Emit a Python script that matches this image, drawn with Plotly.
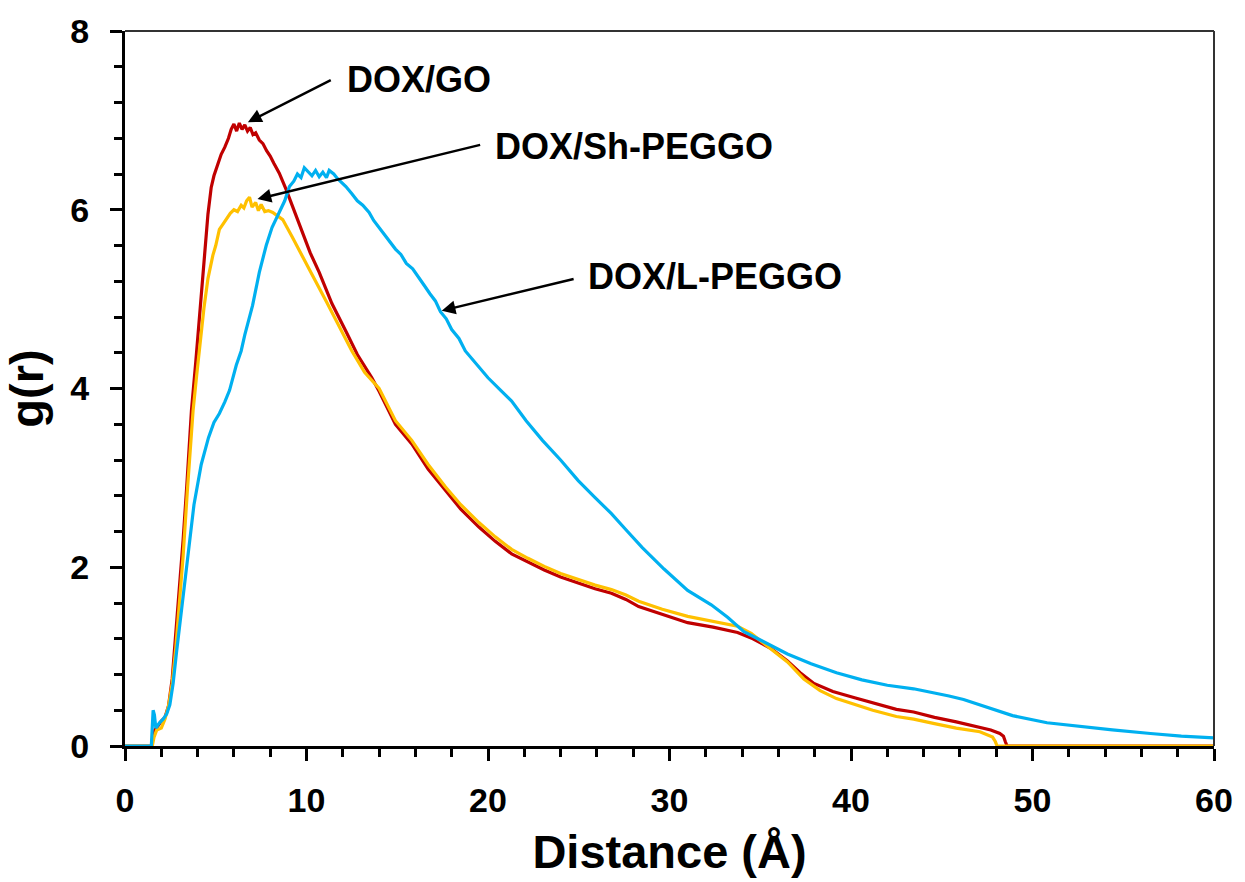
import plotly.graph_objects as go

# Radial distribution functions g(r) of DOX around three carriers
# DOX/GO
r_go = [0, 1.45, 1.55, 1.65, 1.8, 2.0, 2.2, 2.4, 2.6, 2.8, 3.0, 3.2, 3.4, 3.66, 3.9,
        4.12, 4.39, 4.57, 4.75, 4.9, 5.1, 5.3, 5.5, 5.7, 5.85, 6.0, 6.15, 6.3, 6.45,
        6.6, 6.75, 6.9, 7.05, 7.2, 7.4, 7.6, 7.8, 8.0, 8.2, 8.5, 8.87, 9.3, 9.79,
        10.2, 10.7, 11.4, 12.17, 12.8, 13.6, 14.0, 14.9, 15.8, 16.7, 17.65, 18.5,
        19.5, 20.4, 21.3, 22.2, 23.1, 24.0, 25.0, 25.9, 26.8, 27.6, 28.3, 29.6,
        31.0, 32.4, 33.75, 34.6, 35.6, 36.5, 37.2, 37.96, 39.0, 40.2, 41.4, 42.5,
        43.45, 44.6, 45.8, 47.1, 47.7, 48.2, 48.4, 48.5, 48.6, 60.0]
g_go = [0, 0, 0.12, 0.18, 0.22, 0.28, 0.32, 0.45, 0.75, 1.25, 1.8, 2.3, 2.9, 3.75, 4.3,
        4.86, 5.6, 5.95, 6.25, 6.38, 6.5, 6.62, 6.7, 6.8, 6.9, 6.96, 6.88, 6.97, 6.9,
        6.95, 6.88, 6.92, 6.84, 6.86, 6.78, 6.74, 6.66, 6.6, 6.52, 6.41, 6.23, 6.0, 5.75,
        5.52, 5.3, 4.95, 4.64, 4.38, 4.12, 3.97, 3.6, 3.38, 3.1, 2.86, 2.65,
        2.45, 2.29, 2.15, 2.06, 1.97, 1.89, 1.82, 1.76, 1.71, 1.64, 1.56, 1.47,
        1.38, 1.33, 1.27, 1.2, 1.09, 0.95, 0.82, 0.7, 0.61, 0.54, 0.47, 0.41,
        0.38, 0.32, 0.27, 0.21, 0.18, 0.14, 0.11, 0.05, 0.0, 0.0]

# DOX/Sh-PEGGO
r_sh = [0, 1.5, 1.6, 1.75, 2.0, 2.2, 2.4, 2.6, 2.8, 3.0, 3.2, 3.45, 3.75, 3.95,
        4.12, 4.35, 4.57, 4.84, 5.0, 5.2, 5.4, 5.6, 5.8, 6.0, 6.2, 6.4, 6.55,
        6.7, 6.86, 7.0, 7.2, 7.35, 7.5, 7.7, 7.9, 8.14, 8.4, 8.69, 9.2, 9.79,
        10.5, 11.1, 11.8, 12.5, 13.2, 14.0, 14.9, 15.8, 16.7, 17.65, 18.5, 19.5,
        20.4, 21.3, 22.2, 23.1, 24.0, 25.0, 25.9, 26.8, 27.6, 28.3, 29.6, 31.0,
        32.4, 33.75, 34.5, 35.4, 36.5, 37.4, 38.3, 39.2, 39.8, 41.2, 42.5, 43.45,
        44.6, 45.8, 47.1, 47.8, 47.95, 48.05, 60.0]
g_sh = [0, 0, 0.1, 0.18, 0.2, 0.3, 0.45, 0.7, 1.1, 1.6, 2.12, 2.9, 3.75, 4.15,
        4.49, 4.9, 5.23, 5.49, 5.6, 5.78, 5.84, 5.9, 5.96, 6.0, 5.98, 6.05, 6.02,
        6.1, 6.14, 6.03, 6.08, 5.99, 6.06, 5.98, 5.99, 5.97, 5.93, 5.89, 5.7, 5.48,
        5.2, 4.97, 4.7, 4.42, 4.18, 4.0, 3.64, 3.42, 3.15, 2.9, 2.7, 2.5,
        2.34, 2.2, 2.1, 2.01, 1.93, 1.86, 1.8, 1.75, 1.69, 1.62, 1.53, 1.45,
        1.39, 1.34, 1.26, 1.12, 0.94, 0.75, 0.62, 0.53, 0.49, 0.4, 0.33, 0.3,
        0.25, 0.2, 0.16, 0.1, 0.05, 0.0, 0.0]

# DOX/L-PEGGO
r_l = [0, 1.45, 1.55, 1.62, 1.7, 1.9, 2.1, 2.3, 2.47, 2.65, 2.84, 3.1, 3.46, 3.8,
       4.2, 4.6, 4.9, 5.2, 5.5, 5.76, 6.13, 6.4, 6.6, 6.8, 7.03, 7.4, 7.78, 8.1,
       8.5, 8.8, 9.06, 9.3, 9.5, 9.7, 9.88, 10.1, 10.3, 10.5, 10.7, 10.9, 11.1,
       11.25, 11.5, 11.7, 11.95, 12.17, 12.5, 12.8, 13.1, 13.45, 13.7, 14.0, 14.4,
       14.9, 15.2, 15.5, 15.85, 16.2, 16.5, 16.8, 17.1, 17.38, 17.7, 18.0, 18.4,
       18.75, 19.4, 20.0, 20.7, 21.3, 22.1,
       23.0, 24.0, 24.97, 25.9, 26.8, 27.6, 28.5, 29.7, 31.0, 32.3, 33.2, 34.1,
       35.3, 36.5, 37.8, 39.2, 40.6, 42.0, 43.45, 44.5, 45.4, 46.2, 47.1, 48.0,
       48.9, 50.8, 52.5, 54.4, 56.5, 58.2, 60.0]
g_l = [0, 0, 0.4, 0.35, 0.2, 0.26, 0.3, 0.36, 0.46, 0.7, 1.05, 1.5, 2.12, 2.7,
       3.15, 3.45, 3.62, 3.72, 3.85, 3.98, 4.26, 4.42, 4.6, 4.76, 4.93, 5.3, 5.6, 5.8,
       5.97, 6.1, 6.26, 6.32, 6.4, 6.36, 6.47, 6.42, 6.38, 6.44, 6.37, 6.42, 6.36,
       6.44, 6.4, 6.35, 6.3, 6.26, 6.18, 6.1, 6.05, 5.97, 5.88, 5.8, 5.7,
       5.56, 5.5, 5.4, 5.34, 5.23, 5.15, 5.06, 4.98, 4.86, 4.78, 4.66, 4.56,
       4.42, 4.26, 4.12, 3.98, 3.86, 3.64,
       3.42, 3.2, 2.97, 2.78, 2.6, 2.42, 2.22, 1.98, 1.74, 1.58, 1.44, 1.28,
       1.15, 1.03, 0.92, 0.82, 0.74, 0.68, 0.64, 0.6, 0.56, 0.52, 0.46, 0.4,
       0.34, 0.26, 0.22, 0.18, 0.14, 0.11, 0.09]

series = [
    ("DOX/GO", r_go, g_go, "#C00000"),
    ("DOX/Sh-PEGGO", r_sh, g_sh, "#FFC000"),
    ("DOX/L-PEGGO", r_l, g_l, "#00B0F0"),
]

# Arrow labels: (text, tail x, tail y, head x, head y, text left x, text y)
labels = [
    ("DOX/GO", 11.42, 7.46, 6.77, 6.98, 12.1, 7.46),
    ("DOX/Sh-PEGGO", 19.65, 6.73, 7.3, 6.12, 20.3, 6.71),
    ("DOX/L-PEGGO", 24.8, 5.23, 17.45, 4.87, 25.4, 5.25),
]

FONT = "Liberation Sans, Arial, sans-serif"

fig = go.Figure()
for name, r, g, color in series:
    fig.add_trace(go.Scatter(x=r, y=g, mode="lines", name=name,
                             line=dict(color=color, width=3.2)))

annotations = []
for text, tx, ty, hx, hy, lx, ly in labels:
    annotations.append(dict(x=hx, y=hy, ax=tx, ay=ty, xref="x", yref="y",
                            axref="x", ayref="y", text="", showarrow=True,
                            arrowhead=2, arrowsize=1.1, arrowwidth=2.5,
                            arrowcolor="black"))
    annotations.append(dict(x=lx, y=ly, xref="x", yref="y", text=text,
                            showarrow=False, xanchor="left", yanchor="middle",
                            font=dict(family=FONT, size=36, color="black",
                                      weight="bold")))

axis_common = dict(
    showgrid=False, zeroline=False, showline=True, linecolor="black",
    linewidth=3, ticks="outside", ticklen=12, tickwidth=2.5, tickcolor="black",
    tickfont=dict(family=FONT, size=34, color="black", weight="bold"),
)

fig.update_layout(
    width=1245, height=882,
    margin=dict(l=125, r=27, t=29, b=131, pad=0),
    paper_bgcolor="white", plot_bgcolor="white",
    showlegend=False,
    annotations=annotations,
    xaxis=dict(range=[0, 60], dtick=10, tick0=0,
               minor=dict(dtick=2, ticklen=8, tickwidth=2.5, tickcolor="black",
                          ticks="outside"),
               ticklabelstandoff=10,
               title=dict(text="Distance (Å)", standoff=18,
                          font=dict(family=FONT, size=47, color="black",
                                    weight="bold")),
               **axis_common),
    yaxis=dict(range=[0, 8], dtick=2, tick0=0,
               minor=dict(dtick=0.4, ticklen=8, tickwidth=2.5, tickcolor="black",
                          ticks="outside"),
               ticklabelstandoff=14,
               title=dict(text="g(r)", standoff=16,
                          font=dict(family=FONT, size=47, color="black",
                                    weight="bold")),
               **axis_common),
    shapes=[
        dict(type="line", xref="paper", yref="paper", x0=0, x1=1, y0=1, y1=1,
             line=dict(color="#333333", width=2)),
        dict(type="line", xref="paper", yref="paper", x0=1, x1=1, y0=0, y1=1,
             line=dict(color="#333333", width=2)),
    ],
)

fig.write_html("out.html")
